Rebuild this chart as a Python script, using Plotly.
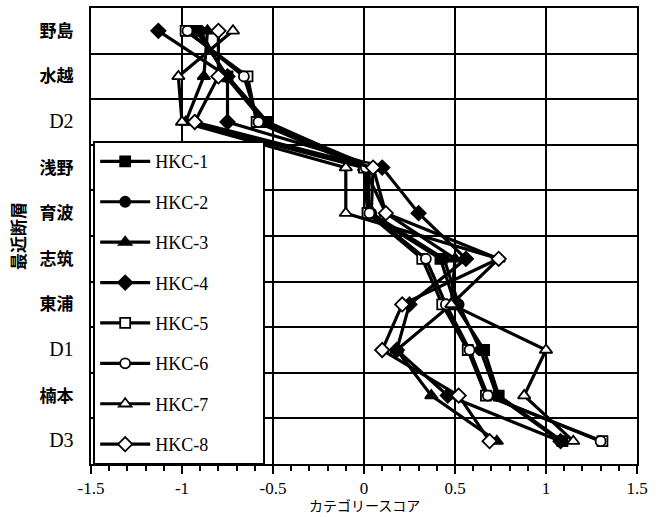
import plotly.graph_objects as go

categories = ["野島", "水越", "D2", "浅野", "育波", "志筑", "東浦", "D1", "楠本", "D3"]

series_names = ["HKC-1", "HKC-2", "HKC-3", "HKC-4", "HKC-5", "HKC-6", "HKC-7", "HKC-8"]
hkc1 = [-0.92, -0.75, -0.53, 0.03, 0.02, 0.42, 0.50, 0.66, 0.74, 1.09]
hkc2 = [-0.90, -0.76, -0.55, 0.05, 0.04, 0.44, 0.52, 0.64, 0.73, 1.08]
hkc3 = [-0.86, -0.88, -0.98, 0.00, 0.12, 0.50, 0.48, 0.18, 0.37, 0.73]
hkc4 = [-1.13, -0.75, -0.75, 0.10, 0.30, 0.56, 0.25, 0.18, 0.46, 1.08]
hkc5 = [-0.98, -0.64, -0.59, 0.00, 0.02, 0.32, 0.43, 0.57, 0.67, 1.31]
hkc6 = [-0.97, -0.66, -0.58, 0.01, 0.03, 0.34, 0.45, 0.58, 0.68, 1.30]
hkc7 = [-0.72, -1.02, -1.00, -0.10, -0.10, 0.74, 0.48, 1.00, 0.88, 1.15]
hkc8 = [-0.80, -0.80, -0.93, 0.05, 0.12, 0.74, 0.21, 0.10, 0.52, 0.69]
values = [hkc1, hkc2, hkc3, hkc4, hkc5, hkc6, hkc7, hkc8]
symbols = ["square", "circle", "triangle-up", "diamond",
           "square", "circle", "triangle-up", "diamond"]
filled = [True, True, True, True, False, False, False, False]
sizes = [10, 10, 11, 11, 10, 10, 11, 11]
x_title = "カテゴリースコア"

fig = go.Figure()
for name, vals, sym, fill, sz in zip(series_names, values, symbols, filled, sizes):
    fig.add_trace(go.Scatter(
        x=vals, y=categories, mode="lines+markers",
        name=name + "\u00a0" * 11,
        legendgroup=name,
        line=dict(color="black", width=3.2),
        marker=dict(symbol=sym, size=sz, color="black" if fill else "white",
                    line=dict(color="black", width=1.8)),
    ))

tick_text = ['<span style="font-size:20px">' + c + "</span>" if c.startswith("D")
             else "<b>" + c + "</b>" for c in categories]

fig.add_annotation(text=x_title, xref="paper", yref="paper", x=0.5, y=-0.09,
                   xanchor="center", yanchor="middle", showarrow=False,
                   font=dict(family="Noto Sans CJK JP", size=14, color="black"))

fig.update_layout(
    width=667, height=517,
    margin=dict(l=91, r=30, t=8, b=53),
    paper_bgcolor="white", plot_bgcolor="white",
    font=dict(family="Liberation Serif", color="black", size=15),
    legend=dict(x=0.004, y=0.708, xanchor="left", yanchor="top",
                bgcolor="white", bordercolor="black", borderwidth=2,
                font=dict(family="Liberation Serif", size=18),
                tracegroupgap=14, itemwidth=50),
    xaxis=dict(range=[-1.5, 1.5], tickvals=[-1.5, -1, -0.5, 0, 0.5, 1, 1.5],
               ticktext=["-1.5", "-1", "-0.5", "0", "0.5", "1", "1.5"],
               showgrid=True, gridcolor="black", gridwidth=2,
               showline=True, linecolor="black", linewidth=2, mirror=True,
               ticks="outside", ticklen=8, tickwidth=2, tickcolor="black",
               minor=dict(dtick=0.1, ticks="outside", ticklen=5, tickwidth=2,
                          tickcolor="black", showgrid=False),
               zeroline=False, automargin=False,
               tickfont=dict(family="Liberation Serif", size=17)),
    yaxis=dict(type="category", categoryorder="array", categoryarray=categories,
               tickvals=categories, ticktext=tick_text,
               range=[9.5, -0.5], tickson="boundaries",
               showgrid=True, gridcolor="black", gridwidth=2,
               showline=True, linecolor="black", linewidth=2, mirror=True,
               ticks="", zeroline=False, ticklabelstandoff=12, automargin=False,
               tickfont=dict(family="Liberation Serif, Noto Sans CJK JP", size=17),
               title=dict(text="<b>最近断層</b>", standoff=10,
                          font=dict(family="Noto Sans CJK JP", size=17))),
)

fig.write_html("out.html")
